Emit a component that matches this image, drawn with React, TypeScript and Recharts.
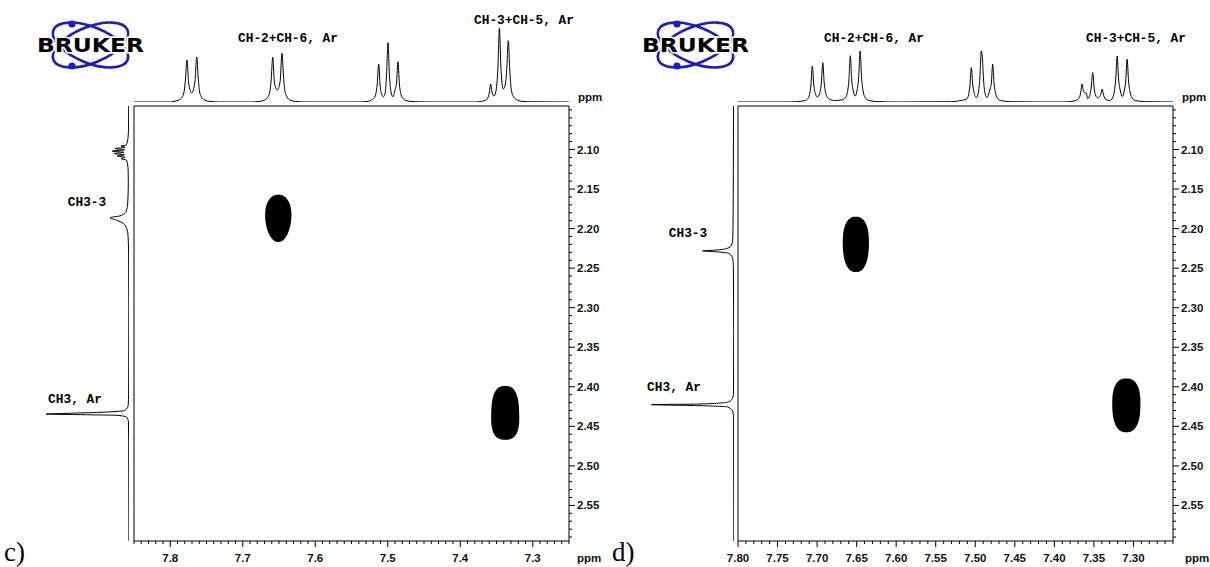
import React from 'react';
import { ScatterChart, Scatter, XAxis, YAxis, ReferenceArea, LineChart, Line } from 'recharts';

// ---------- axis domains & ticks ----------
const cXDomain = [7.25, 7.85];
const dXDomain = [7.25, 7.8];
const yDomain = [2.045, 2.595];

const cXMajor = [7.3, 7.4, 7.5, 7.6, 7.7, 7.8];
const cXLabels = ['7.3', '7.4', '7.5', '7.6', '7.7', '7.8'];
const dXMajor = [7.3, 7.35, 7.4, 7.45, 7.5, 7.55, 7.6, 7.65, 7.7, 7.75, 7.8];
const dXLabels = ['7.30', '7.35', '7.40', '7.45', '7.50', '7.55', '7.60', '7.65', '7.70', '7.75', '7.80'];
const yMajor = [2.1, 2.15, 2.2, 2.25, 2.3, 2.35, 2.4, 2.45, 2.5, 2.55];
const yLabels = ['2.10', '2.15', '2.20', '2.25', '2.30', '2.35', '2.40', '2.45', '2.50', '2.55'];

// ---------- cross peaks (ppm centre, ppm half-widths, outline squareness / taper) ----------
const cCrossPeaks = [
  { x: 7.651, y: 2.187, dx: 0.018, dy: 0.03, n: 2.1, taper: 0.12 },
  { x: 7.338, y: 2.433, dx: 0.0193, dy: 0.034, n: 2.7, taper: -0.06 },
];
const dCrossPeaks = [
  { x: 7.651, y: 2.22, dx: 0.0165, dy: 0.035, n: 2.4, taper: 0.04 },
  { x: 7.309, y: 2.4235, dx: 0.0178, dy: 0.034, n: 2.5, taper: 0.03 },
];

// ---------- 1D projections: [ppm, intensity] ----------
const cTopSpectrum: [number, number][] = [
  [7.85, 0], [7.8, 0], [7.796, 0.5], [7.788, 2], [7.784, 4.5], [7.781, 10], [7.779, 23], [7.777, 42],
  [7.7745, 18], [7.7703, 9], [7.766, 20], [7.7635, 45], [7.7615, 25], [7.7595, 10], [7.7565, 4.5],
  [7.7525, 2], [7.745, 0.5], [7.73, 0],
  [7.69, 0], [7.678, 0.5], [7.6697, 2], [7.6657, 4.5], [7.6627, 10], [7.6607, 23], [7.6587, 44.7],
  [7.6562, 19], [7.6523, 12], [7.6484, 21], [7.6459, 48.7], [7.6439, 27], [7.6419, 11], [7.6389, 5],
  [7.6349, 2], [7.627, 0.5], [7.61, 0],
  [7.545, 0], [7.53, 0.4], [7.5235, 1.5], [7.5195, 3.5], [7.5165, 8], [7.5145, 18], [7.5125, 38],
  [7.5105, 16], [7.5085, 8], [7.506, 5.3], [7.5035, 9], [7.5017, 27], [7.4997, 59.3], [7.4977, 27],
  [7.4955, 10], [7.4928, 5.3], [7.49, 12], [7.4879, 19], [7.4859, 40.3], [7.4839, 18], [7.4817, 7.5],
  [7.4789, 3.5], [7.4749, 1.5], [7.465, 0.4], [7.44, 0],
  [7.38, 0], [7.372, 0.5], [7.366, 1.5], [7.362, 4], [7.36, 9], [7.358, 18], [7.356, 9], [7.3535, 6],
  [7.351, 10], [7.348, 35], [7.346, 73.7], [7.344, 36], [7.3407, 13], [7.3377, 18], [7.3357, 35],
  [7.3337, 61.3], [7.3317, 32], [7.3297, 13], [7.3267, 5.5], [7.3227, 2.5], [7.315, 0.7], [7.3, 0.2],
  [7.25, 0],
];

const dTopSpectrum: [number, number][] = [
  [7.8, 0], [7.74, 0], [7.725, 0.4], [7.715, 1.5], [7.712, 3.2], [7.7095, 7.5], [7.7078, 17], [7.706, 36],
  [7.7042, 17], [7.702, 8], [7.6994, 5], [7.6968, 8.5], [7.6946, 19], [7.6928, 39.3], [7.691, 19],
  [7.6888, 8], [7.6865, 4], [7.6835, 2.5], [7.678, 1.5], [7.668, 2.2], [7.664, 4.5], [7.6617, 9.5],
  [7.6598, 22], [7.658, 46.3], [7.6562, 22], [7.654, 10], [7.6518, 6], [7.6496, 11], [7.6474, 25],
  [7.6456, 51], [7.6438, 25], [7.6416, 10], [7.6393, 4.5], [7.636, 2], [7.625, 0.5], [7.6, 0],
  [7.53, 0.3], [7.52, 1.3], [7.511, 3], [7.5085, 7], [7.5068, 16], [7.505, 34.3], [7.503, 16],
  [7.5022, 12], [7.4987, 4.5], [7.496, 10], [7.4942, 24], [7.4924, 51], [7.491, 44], [7.4895, 22],
  [7.4875, 8], [7.4852, 4.5], [7.483, 8], [7.481, 14], [7.4798, 18], [7.478, 37.7], [7.4762, 18],
  [7.474, 8], [7.4717, 3.5], [7.468, 1.5], [7.455, 0.3], [7.42, 0],
  [7.39, 0], [7.38, 0.4], [7.373, 1.5], [7.3688, 4], [7.3668, 9], [7.365, 18], [7.3632, 11],
  [7.361, 9], [7.3597, 9], [7.358, 3.5], [7.356, 5], [7.3535, 14], [7.3515, 29.3], [7.3497, 14],
  [7.3475, 6], [7.345, 4], [7.3425, 6], [7.3414, 7.5], [7.3396, 12.7], [7.3378, 7], [7.335, 2.5],
  [7.33, 1.5], [7.3265, 4], [7.3243, 10], [7.3224, 23], [7.3206, 46], [7.3188, 23], [7.3165, 11],
  [7.3143, 5.5], [7.3119, 10], [7.3098, 21], [7.308, 42.7], [7.3062, 21], [7.304, 9], [7.3016, 4],
  [7.298, 1.5], [7.285, 0.4], [7.25, 0],
];

const cLeftSpectrum: [number, number][] = [
  [2.045, 0.3], [2.075, 0.5], [2.085, 1], [2.092, 2], [2.0945, 3], [2.0956, 8], [2.0972, 4],
  [2.0988, 14], [2.1004, 4.5], [2.102, 17], [2.1036, 5], [2.1051, 15], [2.1067, 4.5], [2.1083, 12],
  [2.1099, 4], [2.1115, 8], [2.1135, 2.5], [2.118, 1.5], [2.128, 0.8], [2.1428, 0.7], [2.1678, 1.3],
  [2.1788, 3], [2.1839, 9], [2.1864, 19], [2.1893, 12.5], [2.1935, 5.7], [2.1998, 2.3], [2.2083, 1],
  [2.2311, 0.4], [2.3, 0.2], [2.38, 0.3], [2.4087, 0.4], [2.4235, 0.8], [2.4298, 4], [2.4323, 29],
  [2.4336, 62], [2.4345, 83], [2.4353, 46], [2.4361, 12.3], [2.4383, 2.3], [2.4446, 0.6],
  [2.4678, 0.3], [2.595, 0.1],
];

const dLeftSpectrum: [number, number][] = [
  [2.045, 0.5], [2.15, 0.7], [2.2, 1], [2.2146, 1.3], [2.2209, 2.5], [2.2251, 7], [2.2273, 20],
  [2.2282, 31.3], [2.2294, 16.7], [2.2315, 5], [2.2378, 1.2], [2.2484, 0.6], [2.33, 0.3],
  [2.4087, 0.5], [2.415, 1.7], [2.4193, 6], [2.4218, 34], [2.4226, 82.6], [2.4239, 34], [2.4256, 6],
  [2.432, 1], [2.4425, 0.4], [2.595, 0.2],
];

// ---------- labels ----------
const cTopLabels = [
  { text: 'CH-2+CH-6, Ar', x: 288, y: 42 },
  { text: 'CH-3+CH-5, Ar', x: 524, y: 24 },
];
const dTopLabels = [
  { text: 'CH-2+CH-6, Ar', x: 874, y: 42 },
  { text: 'CH-3+CH-5, Ar', x: 1136, y: 42 },
];
const cLeftLabels = [
  { text: 'CH3-3', x: 87, y: 206 },
  { text: 'CH3, Ar', x: 75, y: 403 },
];
const dLeftLabels = [
  { text: 'CH3-3', x: 688, y: 237 },
  { text: 'CH3, Ar', x: 674, y: 391 },
];

// ---------- helpers ----------
const PLOT_SIZE = 435;
const SANS = 'Liberation Sans, Arial, sans-serif';
const MONO = 'Liberation Mono, Courier New, monospace';

function minorTicks(lo: number, hi: number): number[] {
  const out: number[] = [];
  for (let k = Math.ceil(lo * 100 - 1e-6); k <= Math.floor(hi * 100 + 1e-6); k++) out.push(k / 100);
  return out;
}

function labelFor(v: number, majors: number[], labels: string[]): string | null {
  const i = majors.findIndex((m) => Math.abs(m - v) < 1e-6);
  return i >= 0 ? labels[i] : null;
}

const makeBottomTick = (majors: number[], labels: string[]) => (props: any) => {
  const { x, y, payload } = props;
  const lab = labelFor(payload.value, majors, labels);
  return (
    <g>
      <line x1={x} x2={x} y1={y} y2={y + (lab ? 6 : 3)} stroke="#000" strokeWidth={1} />
      {lab && (
        <text x={x} y={y + 21} textAnchor="middle" fontFamily={SANS} fontWeight="bold" fontSize={11.5} fill="#111">
          {lab}
        </text>
      )}
    </g>
  );
};

const makeRightTick = (majors: number[], labels: string[]) => (props: any) => {
  const { x, y, payload } = props;
  const lab = labelFor(payload.value, majors, labels);
  return (
    <g>
      <line x1={x} x2={x + (lab ? 6 : 3)} y1={y} y2={y} stroke="#000" strokeWidth={1} />
      {lab && (
        <text x={x + 8} y={y + 4} textAnchor="start" fontFamily={SANS} fontWeight="bold" fontSize={11.5} fill="#111">
          {lab}
        </text>
      )}
    </g>
  );
};

// contour outline: super-ellipse with optional taper (narrower towards the bottom when taper > 0)
const makeBlob = (pxPerX: number, pxPerY: number) => (props: any) => {
  const { cx, cy, payload } = props;
  const rx = payload.dx * pxPerX;
  const ry = payload.dy * pxPerY;
  const e = 2 / payload.n;
  const pts: string[] = [];
  for (let i = 0; i < 72; i++) {
    const t = (i / 72) * Math.PI * 2;
    const c = Math.cos(t);
    const s = Math.sin(t);
    const sx = Math.sign(c) * Math.pow(Math.abs(c), e);
    const sy = Math.sign(s) * Math.pow(Math.abs(s), e);
    const w = rx * (1 - payload.taper * sy);
    pts.push(`${(cx + w * sx).toFixed(2)},${(cy + ry * sy).toFixed(2)}`);
  }
  return <path d={`M${pts.join('L')}Z`} fill="#000" />;
};

const toPts = (arr: [number, number][]) => arr.map(([p, h]) => ({ p, h }));

interface PanelProps {
  left: number;
  xDomain: number[];
  xMajor: number[];
  xLabels: string[];
  peaks: { x: number; y: number; dx: number; dy: number; n: number; taper: number }[];
  top: [number, number][];
  side: [number, number][];
  sideLeft: number;
  sideWidth: number;
  sideMarginLeft: number;
  sideMarginRight: number;
}

function Panel(p: PanelProps) {
  const width = 134 + PLOT_SIZE + 37;
  const xMinor = minorTicks(p.xDomain[0], p.xDomain[1]);
  const yMinor = minorTicks(yDomain[0], yDomain[1]);
  const pxX = PLOT_SIZE / (p.xDomain[1] - p.xDomain[0]);
  const pxY = PLOT_SIZE / (yDomain[1] - yDomain[0]);
  return (
    <>
      {/* main 2D plot */}
      <div style={{ position: 'absolute', left: p.left, top: 0, width, height: 567 }}>
        <ScatterChart width={width} height={567} margin={{ top: 106, left: 134, right: 0, bottom: 0 }}>
          <XAxis
            type="number"
            dataKey="x"
            domain={p.xDomain}
            reversed
            allowDataOverflow
            ticks={xMinor}
            interval={0}
            tickLine={false}
            axisLine={false}
            tickSize={0}
            tickMargin={0}
            height={26}
            tick={makeBottomTick(p.xMajor, p.xLabels)}
          />
          <YAxis
            type="number"
            dataKey="y"
            orientation="right"
            domain={yDomain}
            reversed
            allowDataOverflow
            ticks={yMinor}
            interval={0}
            tickLine={false}
            axisLine={false}
            tickSize={0}
            tickMargin={0}
            width={37}
            tick={makeRightTick(yMajor, yLabels)}
          />
          <ReferenceArea
            x1={p.xDomain[1]}
            x2={p.xDomain[0]}
            y1={yDomain[0]}
            y2={yDomain[1]}
            fill="none"
            fillOpacity={0}
            stroke="#000"
            strokeWidth={1}
            ifOverflow="visible"
          />
          <Scatter data={p.peaks} shape={makeBlob(pxX, pxY)} isAnimationActive={false} />
        </ScatterChart>
      </div>
      {/* top projection */}
      <div style={{ position: 'absolute', left: p.left, top: 0, width, height: 106 }}>
        <LineChart width={width} height={106} data={toPts(p.top)} margin={{ top: 22, left: 134, right: 37, bottom: 4 }}>
          <XAxis type="number" dataKey="p" domain={p.xDomain} reversed allowDataOverflow hide />
          <YAxis type="number" domain={[0, 80]} allowDataOverflow hide />
          <Line dataKey="h" type="monotone" stroke="#000" strokeWidth={1} dot={false} isAnimationActive={false} />
        </LineChart>
      </div>
      {/* left projection */}
      <div style={{ position: 'absolute', left: p.sideLeft, top: 0, width: p.sideWidth, height: 567 }}>
        <LineChart
          layout="vertical"
          width={p.sideWidth}
          height={567}
          data={toPts(p.side)}
          margin={{ top: 106, left: p.sideMarginLeft, right: p.sideMarginRight, bottom: 26 }}
        >
          <XAxis type="number" domain={[0, 90]} reversed allowDataOverflow hide />
          <YAxis type="number" dataKey="p" domain={yDomain} allowDataOverflow hide />
          <Line dataKey="h" type="monotone" stroke="#000" strokeWidth={1} dot={false} isAnimationActive={false} />
        </LineChart>
      </div>
    </>
  );
}

function BrukerLogo({ cx, cy }: { cx: number; cy: number }) {
  const blue = '#1b1bcc';
  return (
    <g>
      <ellipse cx={cx} cy={cy} rx={40} ry={18} fill="none" stroke={blue} strokeWidth={2.6} transform={`rotate(22 ${cx} ${cy})`} />
      <ellipse cx={cx} cy={cy} rx={40} ry={18} fill="none" stroke={blue} strokeWidth={2.6} transform={`rotate(-22 ${cx} ${cy})`} />
      <circle cx={cx - 18.5} cy={cy - 21} r={3.6} fill={blue} />
      <circle cx={cx - 18.5} cy={cy + 21} r={3.6} fill={blue} />
      <text
        x={cx}
        y={cy + 6.5}
        textAnchor="middle"
        fontFamily="DejaVu Sans, Arial, sans-serif"
        fontWeight="900"
        fontSize={19}
        textLength={107}
        lengthAdjust="spacingAndGlyphs"
        fill="#000"
        stroke="#fff"
        strokeWidth={3}
        paintOrder="stroke"
      >
        BRUKER
      </text>
    </g>
  );
}

export default function App() {
  const monoText = (l: { text: string; x: number; y: number }, i: number) => (
    <text key={l.text + i} x={l.x} y={l.y} textAnchor="middle" fontFamily={MONO} fontWeight="bold" fontSize={12.8} fill="#000">
      {l.text}
    </text>
  );
  return (
    <div style={{ position: 'absolute', left: 0, top: 0, width: 1210, height: 567, background: '#fff', overflow: 'hidden' }}>
      <Panel
        left={0}
        xDomain={cXDomain}
        xMajor={cXMajor}
        xLabels={cXLabels}
        peaks={cCrossPeaks}
        top={cTopSpectrum}
        side={cLeftSpectrum}
        sideLeft={0}
        sideWidth={134}
        sideMarginLeft={39}
        sideMarginRight={5}
      />
      <Panel
        left={604}
        xDomain={dXDomain}
        xMajor={dXMajor}
        xLabels={dXLabels}
        peaks={dCrossPeaks}
        top={dTopSpectrum}
        side={dLeftSpectrum}
        sideLeft={600}
        sideWidth={138}
        sideMarginLeft={44}
        sideMarginRight={4}
      />
      <svg width={1210} height={567} style={{ position: 'absolute', left: 0, top: 0, pointerEvents: 'none' }}>
        <BrukerLogo cx={90.5} cy={45} />
        <BrukerLogo cx={695.5} cy={45} />
        {cTopLabels.map(monoText)}
        {dTopLabels.map(monoText)}
        {cLeftLabels.map(monoText)}
        {dLeftLabels.map(monoText)}
        <text x={578} y={101} fontFamily={SANS} fontWeight="bold" fontSize={11.5} fill="#111">ppm</text>
        <text x={577} y={562} fontFamily={SANS} fontWeight="bold" fontSize={11.5} fill="#111">ppm</text>
        <text x={1182} y={101} fontFamily={SANS} fontWeight="bold" fontSize={11.5} fill="#111">ppm</text>
        <text x={1185} y={562} fontFamily={SANS} fontWeight="bold" fontSize={11.5} fill="#111">ppm</text>
        <text x={4} y={561} fontFamily="Liberation Serif, Times New Roman, serif" fontSize={27} fill="#000">c)</text>
        <text x={612} y={561} fontFamily="Liberation Serif, Times New Roman, serif" fontSize={27} fill="#000">d)</text>
      </svg>
    </div>
  );
}
